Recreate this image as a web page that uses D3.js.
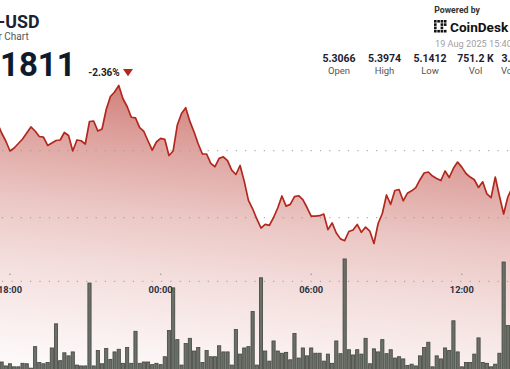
<!DOCTYPE html>
<html><head><meta charset="utf-8">
<script src="https://cdn.jsdelivr.net/npm/d3@7"></script>
<style>
html,body{margin:0;padding:0;background:#fff;overflow:hidden}
svg{display:block;font-family:Roboto,"Noto Sans",sans-serif}
</style></head><body>
<svg id="chart" width="510" height="369"></svg>
<script>
// ---- data ----
const priceStart = "2025-08-18T17:30:00Z";   // 10-minute closes
const volumeStart = "2025-08-18T17:40:00Z";  // 10-minute volumes (K)
const stepMinutes = 10;
const prices = [
5.3413,5.3264,5.3145,5.2996,5.3040,5.3107,5.3175,5.3264,5.3354,5.3294,
5.3212,5.3204,5.3078,5.3115,5.3152,5.3160,5.3272,5.3227,5.2996,5.3160,
5.3149,5.3100,5.3436,5.3443,5.3294,5.3324,5.3615,5.3809,5.3876,5.3973,
5.3775,5.3660,5.3499,5.3491,5.3345,5.3287,5.3145,5.3010,5.3130,5.3185,
5.3170,5.2928,5.2996,5.3384,5.3555,5.3642,5.3437,5.3279,5.3100,5.2951,
5.2951,5.2810,5.2761,5.2885,5.2909,5.2851,5.2710,5.2645,5.2779,5.2542,
5.2258,5.2133,5.1981,5.1846,5.1900,5.1885,5.2003,5.2145,5.2324,5.2173,
5.2199,5.2315,5.2328,5.2269,5.2152,5.2024,5.2024,5.2030,5.2055,5.1822,
5.1922,5.1772,5.1684,5.1657,5.1794,5.1816,5.1900,5.1782,5.1860,5.1801,
5.1615,5.1913,5.2063,5.2339,5.2200,5.2406,5.2421,5.2252,5.2366,5.2401,
5.2448,5.2567,5.2667,5.2682,5.2621,5.2585,5.2555,5.2697,5.2600,5.2737,
5.2830,5.2755,5.2660,5.2607,5.2566,5.2451,5.2536,5.2354,5.2299,5.2607,
5.2324,5.2055,5.2309,5.2443];
const volumes = [
1.6,0.7,1.2,0.5,0.5,1.3,1.2,0.2,5.1,1.5,
1.2,1.5,4.8,10.3,1.9,3.7,3.0,3.9,0.9,0.7,
0.7,19.6,0.7,4.2,1.2,4.7,2.2,3.9,4.5,1.3,
4.9,1.3,8.6,1.3,1.6,1.6,1.0,1.3,1.0,2.8,
8.8,18.5,6.7,0.9,5.8,7.0,4.1,4.9,1.5,4.2,
2.8,2.8,5.3,3.9,3.9,0.9,9.0,3.4,4.8,5.1,
13.1,0.9,20.8,4.1,1.8,6.4,4.1,3.6,3.8,2.1,
8.1,2.5,4.8,3.0,4.8,3.6,3.6,1.8,3.4,1.3,
6.4,3.5,25.1,4.4,3.2,4.4,3.4,7.0,1.2,4.6,
3.9,6.7,3.5,4.4,2.5,2.8,2.3,0.8,1.1,0.7,
3.0,4.9,6.1,0.5,3.0,2.3,4.8,4.2,11.0,3.9,
0.5,1.5,1.5,3.4,7.1,1.5,1.3,0.5,1.1,3.6,
24.4,9.9];
const tickLabels = ["18:00","00:00","06:00","12:00"];
const tickTimes = ["2025-08-18T18:00:00Z","2025-08-19T00:00:00Z","2025-08-19T06:00:00Z","2025-08-19T12:00:00Z"];
const priceGrid = [5.30, 5.20];
const volumeGrid = [20];
const statValues = ["5.3066","5.3974","5.1412","751.2 K","3.90 M"];
const statLabels = ["Open","High","Low","Vol","Vol USD"];
const symbol = "ICP-USD";
const subtitle = "24 Hour Chart";
const lastPrice = "$5.1811";
const change = "-2.36%";
const stamp = "19 Aug 2025 15:40 UTC";

// ---- build ----
const W = 510, H = 369;
const svg = d3.select("#chart");
const t0p = new Date(priceStart), t0v = new Date(volumeStart);
const priceData = prices.map((p,i)=>({t:d3.utcMinute.offset(t0p,i*stepMinutes),v:p}));
const volData = volumes.map((v,i)=>({t:d3.utcMinute.offset(t0v,i*stepMinutes),v:v}));

const x = d3.scaleUtc()
  .domain([new Date("2025-08-18T18:00:00Z"), new Date("2025-08-19T12:00:00Z")])
  .range([10, 461.8]);
const y = d3.scaleLinear().domain([5.20, 5.30]).range([217.7, 150.7]);
const yv = d3.scaleLinear().domain([0, 20]).range([H, 281.3]);

const defs = svg.append("defs");
const grad = defs.append("linearGradient").attr("id","fillGrad")
  .attr("gradientUnits","userSpaceOnUse")
  .attr("x1",265).attr("y1",85).attr("x2",235).attr("y2",380);
[[0,0.63],[0.22,0.44],[0.46,0.265],[0.66,0.16],[0.86,0.08],[1,0.03]].forEach(s=>{
  grad.append("stop").attr("offset",s[0]).attr("stop-color","#b2281e").attr("stop-opacity",s[1]);
});

const area = d3.area().x(d=>x(d.t)).y0(H+5).y1(d=>y(d.v));
const line = d3.line().x(d=>x(d.t)).y(d=>y(d.v));

svg.append("path").datum(priceData).attr("d",area).attr("fill","url(#fillGrad)");

// gridlines
const gridG = svg.append("g");
gridG.selectAll("line.pg").data(priceGrid).join("line")
  .attr("x1",2).attr("x2",W).attr("y1",d=>y(d)).attr("y2",d=>y(d))
  .attr("stroke","#9a9a9a").attr("stroke-width",1).attr("stroke-dasharray","1.2 8.15");
gridG.selectAll("line.vg").data(volumeGrid).join("line")
  .attr("x1",2).attr("x2",W).attr("y1",d=>yv(d)).attr("y2",d=>yv(d))
  .attr("stroke","#9a9a9a").attr("stroke-width",1).attr("stroke-dasharray","1.2 8.15");

svg.append("path").datum(priceData).attr("d",line)
  .attr("fill","none").attr("stroke","#b2281e").attr("stroke-width",1.7)
  .attr("stroke-linejoin","round");

// volume bars
const bw = 3.2;
svg.append("g").selectAll("rect").data(volData).join("rect")
  .attr("x",d=>x(d.t)-bw/2).attr("width",bw)
  .attr("y",d=>yv(d.v)).attr("height",d=>H-yv(d.v)+2)
  .attr("fill","#6a7068").attr("stroke","#41463f").attr("stroke-width",0.8);

// time ticks
const ticks = tickTimes.map((s,i)=>({t:new Date(s),label:tickLabels[i]}));
const tg = svg.append("g");
tg.selectAll("circle").data(ticks).join("circle")
  .attr("cx",d=>x(d.t)).attr("cy",274.3).attr("r",0.8).attr("fill","#999");
tg.selectAll("text").data(ticks).join("text")
  .attr("x",d=>x(d.t)).attr("y",293).attr("text-anchor","middle")
  .attr("font-size",9.3).attr("font-weight",700).attr("fill","#2a3140")
  .text(d=>d.label);

// header left
svg.append("text").attr("x",39.5).attr("y",28).attr("text-anchor","end")
  .attr("font-size",17.8).attr("font-weight",700).attr("fill","#1c2230").text(symbol);
svg.append("text").attr("x",28.7).attr("y",39.5).attr("text-anchor","end")
  .attr("font-size",10).attr("fill","#555").text(subtitle);
svg.append("text").attr("x",75.7).attr("y",75.8).attr("text-anchor","end")
  .attr("font-size",33).attr("font-weight",700).attr("fill","#0f1b2d").text(lastPrice);
svg.append("text").attr("x",88.3).attr("y",75.5)
  .attr("font-size",10).attr("font-weight",700).attr("fill","#222").text(change);
svg.append("path").attr("d","M123,69L133,69L128,76.3Z").attr("fill","#b3261e");

// header right
svg.append("text").attr("x",434.3).attr("y",12.5)
  .attr("font-size",8.7).attr("font-weight",700).attr("fill","#333").text("Powered by");
const logo = svg.append("g").attr("fill","#111");
const cells = [[0,0],[1,0],[2,0],[3,0],[0,1],[0,2],[0,3],[1,3],[2,3],[3,3],[2,1],[3,1],[2,2]];
logo.selectAll("rect").data(cells).join("rect")
  .attr("x",d=>434+d[0]*3.3).attr("y",d=>20+d[1]*3.3).attr("width",2.6).attr("height",2.6);
svg.append("text").attr("x",450).attr("y",32)
  .attr("font-size",13.6).attr("font-weight",700).attr("fill","#111").text("CoinDesk");
svg.append("text").attr("x",435).attr("y",46.5)
  .attr("font-size",9.2).attr("fill","#a0a0a0").text(stamp);

const statX = [339, 384.5, 430, 475.5, 518];
const sg = svg.append("g");
sg.selectAll("text.v").data(statValues).join("text")
  .attr("x",(d,i)=>statX[i]).attr("y",62).attr("text-anchor","middle")
  .attr("font-size",10.5).attr("font-weight",700).attr("fill","#1c2230").text(d=>d);
sg.selectAll("text.l").data(statLabels).join("text")
  .attr("x",(d,i)=>statX[i]).attr("y",74).attr("text-anchor","middle")
  .attr("font-size",9.5).attr("fill","#555").text(d=>d);
</script>
</body></html>
